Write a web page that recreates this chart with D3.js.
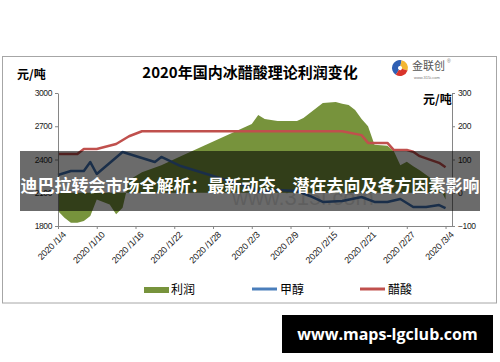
<!DOCTYPE html>
<html>
<head>
<meta charset="utf-8">
<script src="https://cdn.jsdelivr.net/npm/d3@7"></script>
<style>
body { margin: 0; background: #fff; }
svg { display: block; font-family: "Liberation Sans", Arial, sans-serif; }
</style>
</head>
<body>
<div id="chart"></div>
<script>
// profit (right axis, yuan/ton)
var profitDates = ["2020/1/4", "2020/1/5", "2020/1/6", "2020/1/7", "2020/1/8", "2020/1/9", "2020/1/10", "2020/1/12",
    "2020/1/13", "2020/1/14", "2020/1/15", "2020/1/17", "2020/1/20", "2020/1/23", "2020/2/3", "2020/2/4", "2020/2/5",
    "2020/2/6", "2020/2/7", "2020/2/10", "2020/2/11", "2020/2/13", "2020/2/14", "2020/2/16", "2020/2/17", "2020/2/18",
    "2020/2/19", "2020/2/20", "2020/2/21", "2020/2/22", "2020/2/24", "2020/2/25", "2020/2/26", "2020/2/27", "2020/2/28",
    "2020/2/29", "2020/3/2", "2020/3/3", "2020/3/4"];
var profitValues = [-55, -75, -90, -90, -85, -70, -20, -35,
    -65, -45, 38, 62, 83, 110, 207, 234, 222,
    219, 216, 216, 225, 255, 270, 273, 268, 264,
    249, 222, 200, 144, 141, 125, 83, 93, 80,
    68, 40, 20, -20];
// methanol (left axis)
var methanolDates = ["2020/1/4", "2020/1/6", "2020/1/8", "2020/1/9", "2020/1/10", "2020/1/14", "2020/1/18", "2020/1/19",
    "2020/1/20", "2020/1/23", "2020/2/3", "2020/2/4", "2020/2/7", "2020/2/10", "2020/2/12", "2020/2/14", "2020/2/17",
    "2020/2/20", "2020/2/22", "2020/2/24", "2020/2/26", "2020/2/28", "2020/3/1", "2020/3/3", "2020/3/4"];
var methanolValues = [2260, 2296, 2296, 2377, 2269, 2468, 2396, 2378,
    2423, 2341, 2143, 2107, 2125, 2116, 2071, 2017, 2026,
    2062, 2017, 2017, 2044, 1971, 1971, 1989, 1962];
// acetic acid (left axis)
var aceticDates = ["2020/1/4", "2020/1/7", "2020/1/8", "2020/1/10", "2020/1/13", "2020/1/15", "2020/1/17", "2020/2/17",
    "2020/2/20", "2020/2/21", "2020/2/24", "2020/2/25", "2020/2/27", "2020/2/28", "2020/2/29", "2020/3/2", "2020/3/3", "2020/3/4"];
var aceticValues = [2450, 2450, 2495, 2495, 2540, 2610, 2655, 2655,
    2620, 2550, 2550, 2485, 2485, 2470, 2430, 2390, 2370, 2330];

var leftTicks = [1800, 2100, 2400, 2700, 3000];
var rightTicks = [-100, 0, 100, 200, 300];
var xTickDates = ["2020/1/4", "2020/1/10", "2020/1/16", "2020/1/22", "2020/1/28", "2020/2/3", "2020/2/9",
    "2020/2/15", "2020/2/21", "2020/2/27", "2020/3/4"];
var legendNames = ["利润", "甲醇", "醋酸"];

DrawChart();

function DrawChart() {
    var width = 500, height = 362;
    var parse = d3.timeParse("%Y/%m/%d");
    var fmt = function (d) { return d3.timeFormat("%Y")(d) + " /" + (d.getMonth() + 1) + "/" + d.getDate(); };

    var green = "#77933c", blue = "#3e6fae", red = "#c0504d";

    var svg = d3.select("#chart").append("svg")
        .attr("width", width)
        .attr("height", height);

    // chart frame
    svg.append("rect")
        .attr("x", 2.5).attr("y", 56.5)
        .attr("width", 494).attr("height", 246.5)
        .attr("fill", "#fff")
        .attr("stroke", "#a6a6a6");

    var x = d3.scaleTime()
        .domain([parse("2020/1/4"), parse("2020/3/5")])
        .range([58, 452]);
    var yLeft = d3.scaleLinear().domain([1800, 3000]).range([226, 93]);
    var yRight = d3.scaleLinear().domain([-100, 300]).range([226, 93]);

    var profit = profitDates.map(function (d, i) { return { date: parse(d), value: profitValues[i] }; });
    var methanol = methanolDates.map(function (d, i) { return { date: parse(d), value: methanolValues[i] }; });
    var acetic = aceticDates.map(function (d, i) { return { date: parse(d), value: aceticValues[i] }; });

    // profit area, filled to zero
    var area = d3.area()
        .x(function (d) { return x(d.date); })
        .y0(yRight(0))
        .y1(function (d) { return yRight(d.value); });
    svg.append("path")
        .datum(profit)
        .attr("d", area)
        .attr("fill", green);

    // faint watermark
    svg.append("text")
        .attr("x", 232).attr("y", 205)
        .attr("font-size", 22)
        .attr("fill", "#000")
        .attr("opacity", 0.12)
        .text("www.315i.com");

    var line = d3.line()
        .x(function (d) { return x(d.date); })
        .y(function (d) { return yLeft(d.value); });
    svg.append("path")
        .datum(methanol)
        .attr("d", line)
        .attr("fill", "none")
        .attr("stroke", blue)
        .attr("stroke-width", 2.5)
        .attr("stroke-linejoin", "round");
    svg.append("path")
        .datum(acetic)
        .attr("d", line)
        .attr("fill", "none")
        .attr("stroke", red)
        .attr("stroke-width", 2.5)
        .attr("stroke-linejoin", "round");

    // axes
    var axisColor = "#868686";
    var gLeft = svg.append("g")
        .attr("transform", "translate(58,0)")
        .call(d3.axisLeft(yLeft).tickValues(leftTicks).tickFormat(d3.format("d"))
            .tickSize(3).tickSizeOuter(0).tickPadding(3));
    var gRight = svg.append("g")
        .attr("transform", "translate(452,0)")
        .call(d3.axisRight(yRight).tickValues(rightTicks).tickFormat(d3.format("d"))
            .tickSize(3).tickSizeOuter(0).tickPadding(3));
    var gBottom = svg.append("g")
        .attr("transform", "translate(0,226)")
        .call(d3.axisBottom(x).tickValues(xTickDates.map(parse)).tickFormat(fmt).tickSize(3).tickSizeOuter(0));
    [gLeft, gRight, gBottom].forEach(function (g) {
        g.selectAll("path, line").attr("stroke", axisColor);
        g.selectAll("text")
            .attr("font-size", 8.5)
            .attr("letter-spacing", -0.4)
            .attr("fill", "#222");
    });
    gBottom.selectAll("text")
        .attr("font-size", 9)
        .attr("letter-spacing", -0.2)
        .attr("text-anchor", "end")
        .attr("dy", 0)
        .attr("transform", "translate(4,5) rotate(-45)");

    // titles
    svg.append("text")
        .attr("x", 250).attr("y", 78)
        .attr("text-anchor", "middle")
        .attr("font-family", "Noto Sans CJK SC")
        .attr("font-weight", "bold")
        .attr("font-size", 15)
        .text("2020年国内冰醋酸理论利润变化");
    svg.append("text")
        .attr("x", 17).attr("y", 79)
        .attr("font-family", "Noto Sans CJK SC")
        .attr("font-weight", "bold")
        .attr("font-size", 12)
        .text("元/吨");
    svg.append("text")
        .attr("x", 423).attr("y", 104)
        .attr("font-family", "Noto Sans CJK SC")
        .attr("font-weight", "bold")
        .attr("font-size", 12)
        .text("元/吨");

    // logo
    var logo = svg.append("g").attr("transform", "translate(400,68)");
    var arc = d3.arc().innerRadius(2).outerRadius(8);
    [[-2.6, 0.2, "#2f5fb3"], [0.2, 1.9, "#f2b632"], [1.9, 3.7, "#d9342b"]].forEach(function (s) {
        logo.append("path").attr("d", arc({ startAngle: s[0], endAngle: s[1] })).attr("fill", s[2]);
    });
    svg.append("text").attr("x", 412).attr("y", 70)
        .attr("font-family", "Noto Sans CJK SC").attr("font-size", 11).attr("fill", "#555")
        .text("金联创");
    svg.append("text").attr("x", 447).attr("y", 63).attr("font-size", 5).attr("fill", "#777").text("®");
    svg.append("text").attr("x", 414).attr("y", 79).attr("font-size", 4).attr("fill", "#777").text("www.315i.com");

    // legend
    var legend = svg.append("g").attr("font-family", "Noto Sans CJK SC").attr("font-size", 12);
    legend.append("rect").attr("x", 144).attr("y", 287).attr("width", 25).attr("height", 6).attr("fill", green);
    legend.append("line").attr("x1", 252).attr("x2", 277).attr("y1", 289).attr("y2", 289)
        .attr("stroke", "#4a7ebb").attr("stroke-width", 3);
    legend.append("line").attr("x1", 360).attr("x2", 385).attr("y1", 289).attr("y2", 289)
        .attr("stroke", red).attr("stroke-width", 3);
    [171, 280, 388].forEach(function (lx, i) {
        legend.append("text").attr("x", lx).attr("y", 294).text(legendNames[i]);
    });

    // dark headline band
    svg.append("rect")
        .attr("x", 20).attr("y", 151)
        .attr("width", 460).attr("height", 60)
        .attr("fill", "#000")
        .attr("opacity", 0.58);
    svg.append("text")
        .attr("x", 250).attr("y", 192)
        .attr("text-anchor", "middle")
        .attr("font-family", "Noto Sans CJK SC")
        .attr("font-weight", "bold")
        .attr("font-size", 17)
        .attr("fill", "#fff")
        .text("迪巴拉转会市场全解析：最新动态、潜在去向及各方因素影响");

    // site box
    svg.append("rect")
        .attr("x", 282).attr("y", 315)
        .attr("width", 211).attr("height", 38)
        .attr("fill", "#000");
    svg.append("text")
        .attr("x", 387.5).attr("y", 340)
        .attr("text-anchor", "middle")
        .attr("font-family", "Open Sans")
        .attr("font-weight", "bold")
        .attr("font-size", 16)
        .attr("fill", "#fff")
        .text("www.maps-lgclub.com");
}
</script>
</body>
</html>
